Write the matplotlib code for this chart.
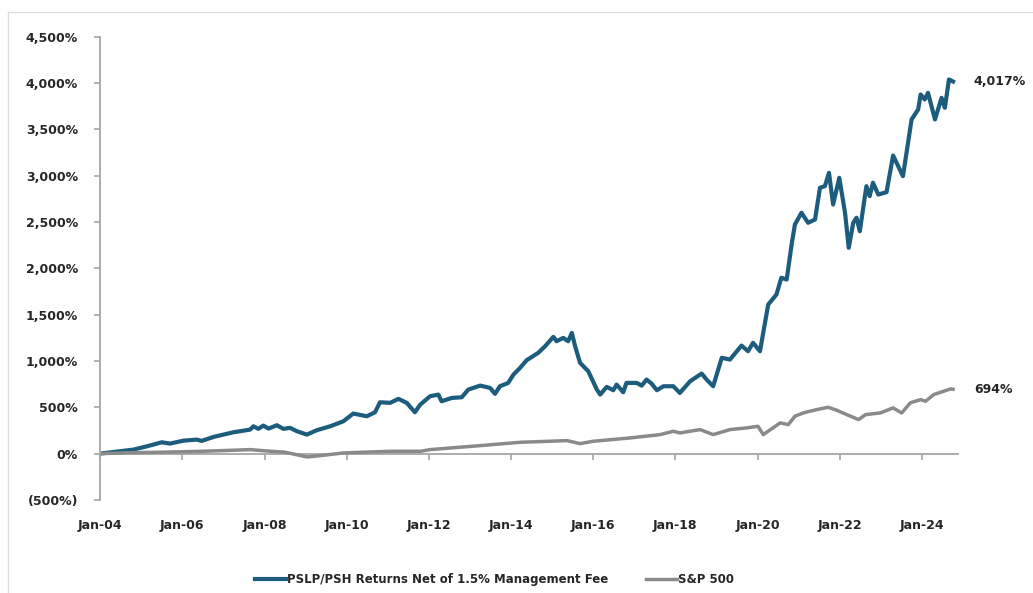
import numpy as np
import matplotlib

matplotlib.use("Agg")

import matplotlib.pyplot as plt
from matplotlib.lines import Line2D
from matplotlib.ticker import FuncFormatter

# ----- data (cumulative return, %) -----
pslp_years = [
    2004.00, 2004.81, 2005.14, 2005.50, 2005.70, 2006.03, 2006.35, 2006.47, 2006.76,
    2007.24, 2007.65, 2007.73, 2007.85, 2007.97, 2008.10, 2008.30, 2008.46, 2008.62,
    2008.79, 2009.03, 2009.27, 2009.60, 2009.92, 2010.16, 2010.49, 2010.69, 2010.81,
    2011.06, 2011.26, 2011.46, 2011.66, 2011.79, 2012.03, 2012.23, 2012.31, 2012.56,
    2012.80, 2012.96, 2013.25, 2013.49, 2013.61, 2013.73, 2013.93, 2014.06, 2014.22,
    2014.38, 2014.66, 2014.83, 2015.03, 2015.11, 2015.27, 2015.39, 2015.48, 2015.56,
    2015.68, 2015.88, 2016.09, 2016.17, 2016.33, 2016.49, 2016.57, 2016.73, 2016.81,
    2017.06, 2017.18, 2017.30, 2017.42, 2017.55, 2017.71, 2017.95, 2018.11, 2018.36,
    2018.64, 2018.76, 2018.92, 2019.13, 2019.33, 2019.61, 2019.77, 2019.89, 2020.06,
    2020.26, 2020.46, 2020.58, 2020.71, 2020.83, 2020.91, 2021.07, 2021.23, 2021.40,
    2021.52, 2021.64, 2021.74, 2021.84, 2021.99, 2022.13, 2022.22, 2022.33, 2022.41,
    2022.49, 2022.65, 2022.73, 2022.81, 2022.94, 2023.14, 2023.30, 2023.54, 2023.75,
    2023.91, 2023.97, 2024.07, 2024.15, 2024.32, 2024.48, 2024.56, 2024.66, 2024.76,
]
pslp_values = [
    0, 43, 79, 122, 108, 140, 151, 137, 180,
    230, 259, 295, 267, 302, 270, 306, 267, 278,
    241, 205, 252, 295, 349, 432, 403, 446, 554,
    548, 591, 548, 446, 529, 619, 637, 565, 601,
    608, 691, 734, 709, 645, 727, 763, 853, 925,
    1008, 1087, 1159, 1260, 1213, 1249, 1213, 1303, 1159,
    980, 889, 691, 637, 720, 684, 745, 662, 763,
    763, 734, 799, 756, 684, 727, 727, 655, 781,
    864, 799, 727, 1034, 1015, 1166, 1105, 1196, 1105,
    1609, 1717, 1898, 1879, 2257, 2473, 2600, 2492, 2527,
    2870, 2887, 3031, 2689, 2977, 2600, 2222, 2492, 2546,
    2401, 2887, 2779, 2924, 2797, 2822, 3218, 2995, 3607,
    3715, 3877, 3823, 3895, 3607, 3841, 3733, 4039, 4017,
]

spx_years = [
    2004.00, 2004.80, 2005.50, 2006.50, 2007.24, 2007.65, 2008.00, 2008.50, 2009.03,
    2009.20, 2009.92, 2011.06, 2011.80, 2012.03, 2013.25, 2014.22, 2015.36, 2015.68,
    2016.00, 2016.90, 2017.63, 2017.95, 2018.11, 2018.60, 2018.92, 2019.33, 2019.73,
    2020.01, 2020.14, 2020.55, 2020.75, 2020.91, 2021.11, 2021.44, 2021.72, 2021.93,
    2022.17, 2022.46, 2022.63, 2022.99, 2023.30, 2023.51, 2023.72, 2023.97, 2024.09,
    2024.29, 2024.53, 2024.70, 2024.76,
]
spx_values = [
    0, 10, 15, 25, 36, 43, 30, 15, -36,
    -30, 7, 25, 25, 43, 86, 122, 140, 108,
    133, 169, 205, 241, 223, 259, 205, 259, 277,
    295, 205, 331, 313, 403, 439, 475, 500, 468,
    421, 367, 421, 439, 493, 439, 548, 583, 565,
    637, 673, 698, 694,
]

tick_years = list(range(2004, 2025, 2))
tick_labels = [f"Jan-{y % 100:02d}" for y in tick_years]
end_labels = ["4,017%", "694%"]

# ----- plotting -----
blue = "#1c5c7c"
grey = "#8a8a8a"
axis_grey = "#a6a6a6"
text_col = "#262626"

fig = plt.figure(figsize=(10.33, 5.93), dpi=100)
ax = fig.add_axes([0.097, 0.157, 0.83, 0.781])

ax.plot(pslp_years, pslp_values, color=blue, lw=3.0,
        label="PSLP/PSH Returns Net of 1.5% Management Fee", solid_joinstyle="round")
ax.plot(spx_years, spx_values, color=grey, lw=2.5, label="S&P 500",
        solid_joinstyle="round")

ax.set_xlim(2004, 2024.87)
ax.set_ylim(-500, 4500)
ax.set_yticks(np.arange(-500, 4501, 500))
ax.set_xticks(tick_years)
ax.set_xticklabels(tick_labels)


def pct_fmt(v, pos):
    if v < 0:
        return f"({abs(v):,.0f}%)"
    return f"{v:,.0f}%"


ax.yaxis.set_major_formatter(FuncFormatter(pct_fmt))

# x axis line sits at 0%, labels stay below the plot
for s in ["top", "right"]:
    ax.spines[s].set_visible(False)
ax.spines["bottom"].set_position(("data", 0))
ax.spines["bottom"].set_zorder(1)
for s in ["left", "bottom"]:
    ax.spines[s].set_color(axis_grey)
    ax.spines[s].set_linewidth(1.3)
ax.tick_params(axis="both", colors=axis_grey, length=4, width=1.2,
               labelcolor=text_col, labelsize=9)
ax.tick_params(axis="y", pad=12)
ax.tick_params(axis="x", pad=43)
for lab in ax.get_xticklabels() + ax.get_yticklabels():
    lab.set_fontweight("bold")

# end-of-series labels
ax.annotate(end_labels[0], xy=(pslp_years[-1], pslp_values[-1]), xytext=(15, 0),
            textcoords="offset points", va="center", ha="left", fontsize=9,
            fontweight="bold", color=text_col, annotation_clip=False)
ax.annotate(end_labels[1], xy=(spx_years[-1], spx_values[-1]), xytext=(15, 0),
            textcoords="offset points", va="center", ha="left", fontsize=9,
            fontweight="bold", color=text_col, annotation_clip=False)

leg = ax.legend(loc="upper center", bbox_to_anchor=(0.46, -0.135), ncol=2,
                frameon=False, handlelength=2.6, handletextpad=0.1,
                columnspacing=3.2, prop={"weight": "bold", "size": 8.5})
for t in leg.get_texts():
    t.set_color(text_col)

# faint screenshot frame
fig.add_artist(Line2D([0.008, 1.0], [0.980, 0.980], color="#dcdcdc", lw=1))
fig.add_artist(Line2D([0.008, 0.008], [0.0, 0.980], color="#dcdcdc", lw=1))

fig.savefig("out.png", dpi=100)
